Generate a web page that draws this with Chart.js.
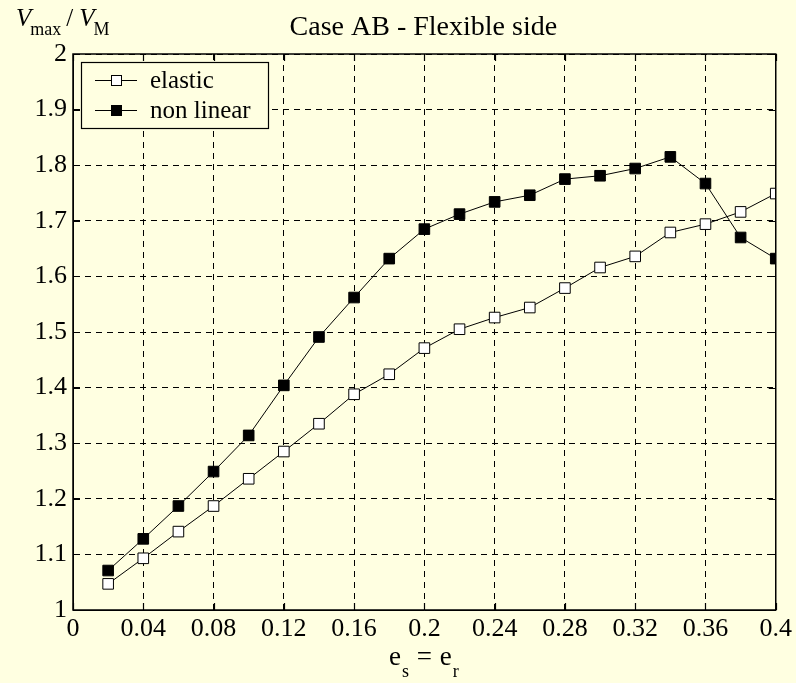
<!DOCTYPE html>
<html><head><meta charset="utf-8">
<script src="https://cdn.jsdelivr.net/npm/chart.js@4/dist/chart.umd.min.js"></script>
<style>html,body{margin:0;padding:0;background:#ffffe1;}canvas{display:block;}</style>
</head><body>
<canvas id="c" width="796" height="683"></canvas>
<script>
// ---- data ----
const xValues = [0.02,0.04,0.06,0.08,0.10,0.12,0.14,0.16,0.18,0.20,0.22,0.24,0.26,0.28,0.30,0.32,0.34,0.36,0.38,0.40];
const elastic = [1.047,1.093,1.141,1.187,1.236,1.285,1.335,1.388,1.424,1.471,1.505,1.526,1.544,1.579,1.616,1.636,1.679,1.694,1.716,1.749];
const nonLinear = [1.071,1.128,1.187,1.249,1.314,1.404,1.491,1.562,1.632,1.685,1.712,1.734,1.746,1.775,1.781,1.794,1.815,1.767,1.670,1.632];
const seriesNames = ['elastic','non linear'];
const xTicks = [0,0.04,0.08,0.12,0.16,0.2,0.24,0.28,0.32,0.36,0.4];
const yTicks = [1,1.1,1.2,1.3,1.4,1.5,1.6,1.7,1.8,1.9,2];
const titleText = 'Case AB - Flexible side';

const BG = '#ffffe1';
const FONT = "'Liberation Serif', 'Times New Roman', serif";

const toPts = ys => xValues.map((x,i)=>({x:x,y:ys[i]}));

const decor = {
  id:'decor',
  beforeDraw(chart){
    const ctx = chart.ctx;
    ctx.save(); ctx.fillStyle = BG; ctx.fillRect(0,0,chart.width,chart.height); ctx.restore();
  },
  afterDraw(chart){
    const ctx = chart.ctx, a = chart.chartArea;
    const xs = chart.scales.x, ys = chart.scales.y;
    ctx.save();
    ctx.strokeStyle = '#000'; ctx.lineWidth = 1.2; ctx.setLineDash([]);
    // inner ticks
    const TL = 7;
    ctx.beginPath();
    xTicks.forEach(v=>{ const p = Math.round(xs.getPixelForValue(v))+0.5;
      ctx.moveTo(p,a.bottom); ctx.lineTo(p,a.bottom-TL);
      ctx.moveTo(p,a.top); ctx.lineTo(p,a.top+TL); });
    yTicks.forEach(v=>{ const p = Math.round(ys.getPixelForValue(v))+0.5;
      ctx.moveTo(a.left,p); ctx.lineTo(a.left+TL,p);
      ctx.moveTo(a.right,p); ctx.lineTo(a.right-TL,p); });
    ctx.stroke();
    // frame
    ctx.lineWidth = 1.5;
    ctx.strokeRect(a.left, a.top, a.right-a.left, a.bottom-a.top);

    // legend
    const lx = a.left+8, ly = a.top+8, lw = 187, lh = 66;
    ctx.fillStyle = BG; ctx.fillRect(lx,ly,lw,lh);
    ctx.lineWidth = 1.2; ctx.strokeRect(lx+0.5,ly+0.5,lw,lh);
    const rows = [ly+18, ly+48];
    const fills = ['#ffffff','#000000'];
    seriesNames.forEach((name,i)=>{
      const y = rows[i];
      ctx.lineWidth = 1; ctx.strokeStyle='#000';
      ctx.beginPath(); ctx.moveTo(lx+14,y+0.5); ctx.lineTo(lx+56,y+0.5); ctx.stroke();
      ctx.fillStyle = fills[i];
      ctx.fillRect(lx+30,y-5,11,11); ctx.strokeRect(lx+30.5,y-4.5,10,10);
      ctx.fillStyle='#000'; ctx.font = '25px '+FONT; ctx.textAlign='left'; ctx.textBaseline='alphabetic';
      ctx.fillText(name, lx+69, y+8);
    });

    // title
    ctx.fillStyle='#000';
    ctx.font = '28px '+FONT; ctx.textAlign='center'; ctx.textBaseline='alphabetic';
    ctx.fillText(titleText, (a.left+a.right)/2-1, 35);

    // y label  V_max / V_M
    ctx.textAlign='left';
    let x = 16;
    ctx.font = 'italic 25px '+FONT; ctx.fillText('V', x, 26); x += ctx.measureText('V').width;
    ctx.font = '18px '+FONT; ctx.fillText('max', x-1, 35); x += ctx.measureText('max').width + 4;
    ctx.font = '25px '+FONT; ctx.fillText('/', x, 26); x += ctx.measureText('/').width + 6;
    ctx.font = 'italic 25px '+FONT; ctx.fillText('V', x, 26); x += ctx.measureText('V').width;
    ctx.font = '18px '+FONT; ctx.fillText('M', x-1, 35);

    // x label  e_s = e_r
    const cx = (a.left+a.right)/2;
    const parts = [['e','27px',0],['s','18px',12],[' = ','27px',0],['e','27px',0],['r','18px',12]];
    let tw = 0;
    parts.forEach(p=>{ ctx.font = p[1]+' '+FONT; tw += ctx.measureText(p[0]).width + 1; });
    x = cx - tw/2;
    parts.forEach(p=>{ ctx.font = p[1]+' '+FONT; ctx.fillText(p[0], x, 665+p[2]); x += ctx.measureText(p[0]).width + 1; });
    ctx.restore();
  }
};

const fmt = v => String(Number(v.toFixed(2)));

new Chart(document.getElementById('c'), {
  type:'line',
  data:{ datasets:[
    { label:seriesNames[0], data:toPts(elastic), borderColor:'#000', borderWidth:1, pointStyle:'rect',
      pointRadius:7.5, pointBackgroundColor:'#ffffff', pointBorderColor:'#000', pointBorderWidth:1, tension:0, fill:false },
    { label:seriesNames[1], data:toPts(nonLinear), borderColor:'#000', borderWidth:1, pointStyle:'rect',
      pointRadius:7.5, pointBackgroundColor:'#000', pointBorderColor:'#000', pointBorderWidth:1, tension:0, fill:false }
  ]},
  options:{
    responsive:false, animation:false, devicePixelRatio:1,
    layout:{ padding:{ top:54, right:20, left:0, bottom:0 } },
    plugins:{ legend:{display:false}, title:{display:false}, tooltip:{enabled:false} },
    scales:{
      x:{ type:'linear', min:0, max:0.4,
        afterBuildTicks: s => { s.ticks = xTicks.map(v=>({value:v})); },
        afterFit: s => { s.height = 73; },
        ticks:{ autoSkip:false, maxRotation:0, padding:4, color:'#000', font:{family:FONT, size:26}, callback:v=>fmt(v) },
        grid:{ color:'#000', lineWidth:1, drawTicks:false },
        border:{ display:true, color:'#000', width:1, dash:[6,5] }
      },
      y:{ type:'linear', min:1, max:2,
        afterBuildTicks: s => { s.ticks = yTicks.map(v=>({value:v})); },
        afterFit: s => { s.width = 73; },
        ticks:{ autoSkip:false, padding:6, color:'#000', font:{family:FONT, size:26}, callback:v=>fmt(v) },
        grid:{ color:'#000', lineWidth:1, drawTicks:false },
        border:{ display:true, color:'#000', width:1, dash:[6,5] }
      }
    }
  },
  plugins:[decor]
});
</script>
</body></html>
